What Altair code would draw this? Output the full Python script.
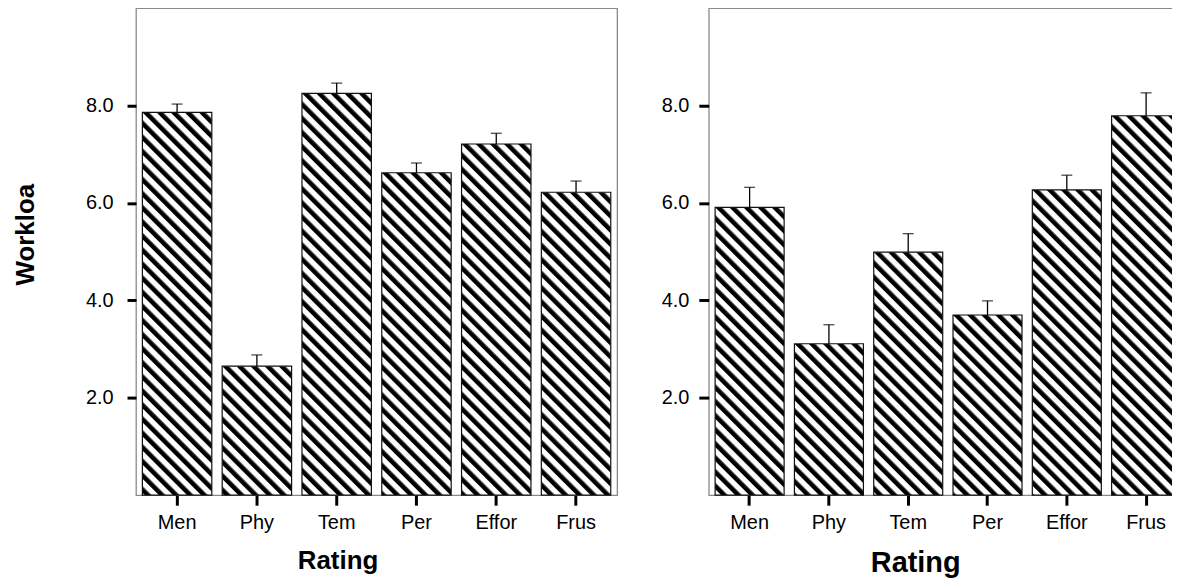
import urllib.parse
import altair as alt
import pandas as pd

# ---- data ----
categories = ["Men", "Phy", "Tem", "Per", "Effor", "Frus"]
left_means = [7.86, 2.65, 8.25, 6.62, 7.21, 6.22]
left_upper = [8.03, 2.88, 8.46, 6.82, 7.43, 6.45]
right_means = [5.91, 3.11, 4.99, 3.70, 6.27, 7.79]
right_upper = [6.32, 3.50, 5.37, 3.99, 6.57, 8.26]
y_tick_values = [2, 4, 6, 8]

FONT = "Liberation Sans"

# diagonal hatch texture (fixed pixel size, tiles to whatever box it fills)
hatch_svg = (
    '<svg xmlns="http://www.w3.org/2000/svg" width="100%" height="100%">'
    '<defs><pattern id="h" patternUnits="userSpaceOnUse" width="10" height="10" '
    'patternTransform="rotate(-45)">'
    '<rect x="0" y="0" width="4.6" height="10" fill="#000"/></pattern></defs>'
    '<rect x="0" y="0" width="100%" height="100%" fill="#fff"/>'
    '<rect x="0" y="0" width="100%" height="100%" fill="url(#h)"/></svg>'
)
hatch_url = "data:image/svg+xml;charset=utf-8," + urllib.parse.quote(hatch_svg)


def panel(means, upper, width, height, y_title, y_tick, y_pad,
          x_title_size, x_title_x, x_title_y):
    df = pd.DataFrame({"Rating": categories, "Mean": means, "Upper": upper})

    x_enc = alt.X(
        "Rating:N",
        sort=categories,
        scale=alt.Scale(paddingInner=0.13, paddingOuter=0.08),
        axis=alt.Axis(
            title="Rating",
            labelAngle=0,
            tickSize=10,
            labelPadding=7,
            titleFontSize=x_title_size,
            titleX=x_title_x,
            titleY=x_title_y,
            titleAlign="center",
            titleBaseline="alphabetic",
        ),
    )
    y_axis_kwargs = dict(
        values=y_tick_values,
        format=".1f",
        tickSize=y_tick,
        labelPadding=y_pad,
    )
    if y_title:
        y_axis_kwargs.update(
            title=y_title,
            titleFontSize=26,
            titleX=-103,
            titleY=227,
            titleAlign="center",
            titleBaseline="alphabetic",
            titleAngle=270,
        )
    else:
        y_axis_kwargs.update(title="")
    y_scale = alt.Scale(domain=[0, 10], nice=False, zero=True)
    y_enc = alt.Y("Mean:Q", scale=y_scale, axis=alt.Axis(**y_axis_kwargs))

    base = alt.Chart(df)
    hatch = base.mark_image(aspect=False).encode(
        x=x_enc, y=y_enc, y2=alt.datum(0), url=alt.value(hatch_url)
    )
    outline = base.mark_bar(fillOpacity=0, stroke="#111111", strokeWidth=1.2).encode(
        x=x_enc, y=y_enc
    )
    err = base.mark_rule(color="#000000", strokeWidth=1.3).encode(
        x=x_enc, y=y_enc, y2="Upper:Q"
    )
    cap = base.mark_tick(orient="horizontal", size=11, thickness=1.3, color="#000000").encode(
        x=x_enc, y=alt.Y("Upper:Q", scale=y_scale, axis=alt.Axis(**y_axis_kwargs))
    )
    return alt.layer(hatch, outline, err, cap).properties(width=width, height=height)


left = panel(left_means, left_upper, 483, 489, "Workloa", 9, 14, 26, 202.3, 74)
right = panel(right_means, right_upper, 480, 489, None, 10, 10, 29, 207.2, 77)

chart = (
    alt.hconcat(left, right, spacing=42)
    .properties(padding={"left": 3.5, "top": -2, "right": -16, "bottom": 0})
    .configure_view(stroke="#8a8a8a", strokeWidth=1.3)
    .configure_axis(
        domain=False,
        grid=False,
        tickColor="#000000",
        tickWidth=3,
        labelFont=FONT,
        labelFontSize=20,
        labelColor="#000000",
        titleFont=FONT,
        titleFontWeight="bold",
        titleColor="#000000",
    )
)

chart.save("out.html", embed_options={"renderer": "svg", "actions": False})
